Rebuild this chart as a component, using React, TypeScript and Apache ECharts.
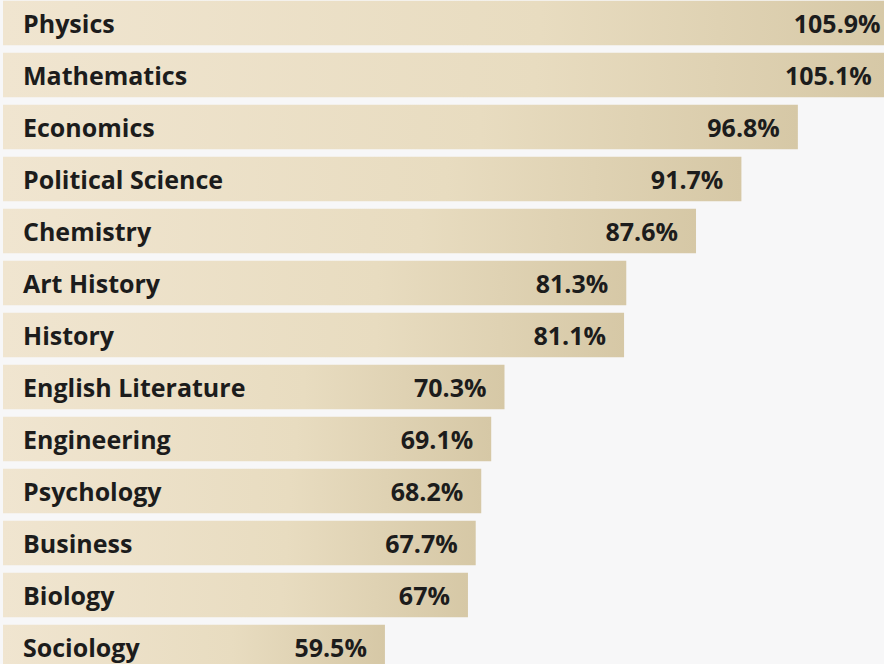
import React, { useEffect, useRef } from "react";
import * as echarts from "echarts";

const categories = [
  "Physics",
  "Mathematics",
  "Economics",
  "Political Science",
  "Chemistry",
  "Art History",
  "History",
  "English Literature",
  "Engineering",
  "Psychology",
  "Business",
  "Biology",
  "Sociology",
];
const values = [105.9, 105.1, 96.8, 91.7, 87.6, 81.3, 81.1, 70.3, 69.1, 68.2, 67.7, 67, 59.5];

export default function App() {
  const ref = useRef<HTMLDivElement>(null);
  useEffect(() => {
    if (!ref.current) return;
    const chart = echarts.init(ref.current, null, { renderer: "svg" });
    chart.setOption({
      animation: false,
      backgroundColor: "#f7f7f8",
      grid: { left: 3, right: 0, top: 0, bottom: 0 },
      xAxis: { type: "value", min: 25, max: 110, show: false },
      yAxis: {
        type: "category",
        data: categories,
        inverse: true,
        z: 10,
        axisLine: { show: false },
        axisTick: { show: false },
        splitLine: { show: false },
        axisLabel: {
          inside: true,
          margin: 20,
          fontSize: 25,
          fontWeight: "bold",
          fontFamily: "Open Sans",
          color: "#1c1c1c",
        },
      },
      series: [
        {
          type: "bar",
          data: values,
          barCategoryGap: "14%",
          itemStyle: {
            color: new echarts.graphic.LinearGradient(0, 0, 1, 0, [
              { offset: 0, color: "#f0e5d0" },
              { offset: 0.6, color: "#e8dcc0" },
              { offset: 1, color: "#d6c8a6" },
            ]),
          },
          label: {
            show: true,
            position: "insideRight",
            distance: 18,
            fontSize: 25,
            fontWeight: "bold",
            fontFamily: "Open Sans",
            color: "#1c1c1c",
            formatter: (p: any) => `${p.value}%`,
          },
        },
      ],
    });
    return () => chart.dispose();
  }, []);
  return (
    <div style={{ position: "fixed", left: 0, top: 0, width: 884, height: 664, overflow: "hidden", background: "#f7f7f8" }}>
      <div ref={ref} style={{ width: 944, height: 676, marginTop: -3 }} />
    </div>
  );
}
